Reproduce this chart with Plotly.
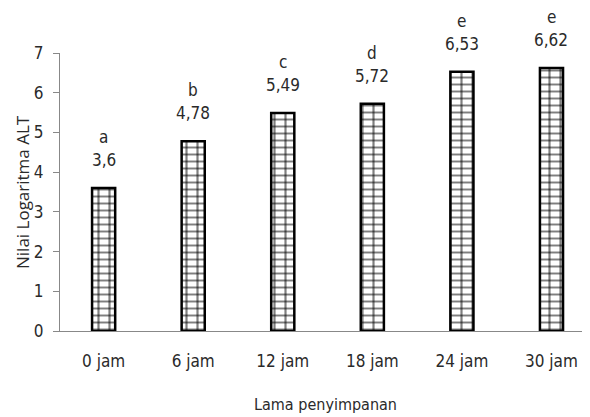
import plotly.graph_objects as go

categories = ["0 jam", "6 jam", "12 jam", "18 jam", "24 jam", "30 jam"]
values = [3.6, 4.78, 5.49, 5.72, 6.53, 6.62]
letters = ["a", "b", "c", "d", "e", "e"]
value_labels = ["3,6", "4,78", "5,49", "5,72", "6,53", "6,62"]

narrow = "DejaVu Sans Condensed"
txt = "#2a2a2a"

fig = go.Figure()
fig.add_trace(go.Bar(
    x=categories,
    y=values,
    marker=dict(
        color="white",
        line=dict(color="black", width=0),
        pattern=dict(shape="-", fgcolor="black", bgcolor="white", size=7, solidity=0.28),
    ),
    hoverinfo="skip",
))
fig.add_trace(go.Bar(
    x=categories,
    y=values,
    marker=dict(
        color="rgba(0,0,0,0)",
        line=dict(color="black", width=2.5),
        pattern=dict(shape="|", fgcolor="black", bgcolor="rgba(0,0,0,0)", size=11, solidity=0.2),
    ),
))

annotations = [
    dict(x=c, y=v, text=s, xref="x", yref="y", showarrow=False, yshift=28,
         yanchor="middle", font=dict(family=narrow, size=17, color=txt))
    for c, v, s in zip(categories, values, value_labels)
]
annotations += [
    dict(x=c, y=v, text=l, xref="x", yref="y", showarrow=False, yshift=51,
         yanchor="middle", font=dict(family=narrow, size=17, color=txt))
    for c, v, l in zip(categories, values, letters)
]
annotations += [
    dict(text="Lama penyimpanan", xref="paper", yref="paper", x=0.5, y=0,
         xanchor="center", yanchor="middle", yshift=-73, showarrow=False,
         font=dict(family=narrow, size=16, color=txt)),
    dict(text="Nilai Logaritma ALT", xref="paper", yref="paper", x=0, y=0.5,
         xanchor="center", yanchor="middle", xshift=-38, textangle=-90, showarrow=False,
         font=dict(family="Open Sans, Noto Sans, sans-serif", size=17, color=txt)),
]

fig.update_layout(
    width=582, height=409,
    margin=dict(l=52, r=0, t=45, b=86),
    paper_bgcolor="white", plot_bgcolor="white",
    barmode="overlay",
    bargap=0.742,
    showlegend=False,
    font=dict(family=narrow, color=txt),
    xaxis=dict(
        range=[-0.487, 5.43],
        tickfont=dict(family=narrow, size=17, color=txt),
        showline=True, linecolor="#888", linewidth=1,
        ticks="", showgrid=False, automargin=False,
        ticklabelstandoff=15,
    ),
    yaxis=dict(
        range=[0, 7], dtick=1,
        tickfont=dict(family=narrow, size=17, color=txt),
        showline=True, linecolor="#888", linewidth=1,
        ticks="outside", ticklen=6, tickcolor="#888",
        ticklabelstandoff=6,
        showgrid=False, zeroline=False, automargin=False,
    ),
    annotations=annotations,
)

fig.write_html("out.html")
